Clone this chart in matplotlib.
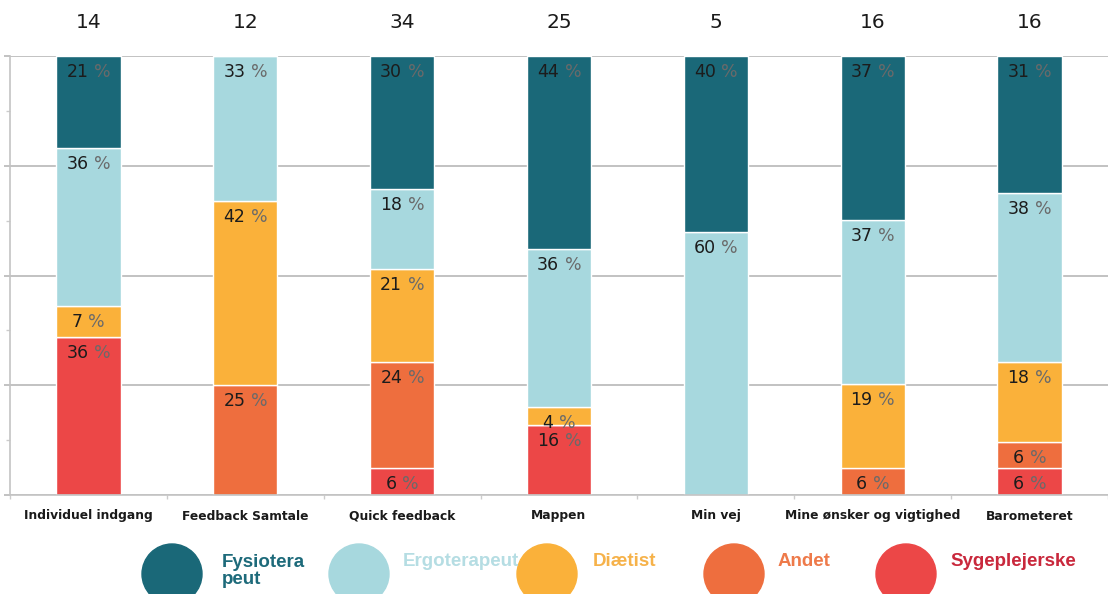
import numpy as np
import matplotlib.pyplot as plt
from matplotlib.patches import Ellipse
from matplotlib.ticker import MultipleLocator
import matplotlib.transforms as mtransforms

categories = [
    "Individuel indgang",
    "Feedback Samtale",
    "Quick feedback",
    "Mappen",
    "Min vej",
    "Mine ønsker og vigtighed",
    "Barometeret",
]
counts = [14, 12, 34, 25, 5, 16, 16]

# shares in percent, stacked bottom -> top
sygeplejerske = [36, 0, 6, 16, 0, 0, 6]
andet = [0, 25, 24, 0, 0, 6, 6]
diaetist = [7, 42, 21, 4, 0, 19, 18]
ergoterapeut = [36, 33, 18, 36, 60, 37, 38]
fysioterapeut = [21, 0, 30, 44, 40, 37, 31]

series = [
    ("Sygeplejerske", sygeplejerske, "#ec4747"),
    ("Andet", andet, "#ee6e3e"),
    ("Diætist", diaetist, "#fab13a"),
    ("Ergoterapeut", ergoterapeut, "#a7d8de"),
    ("Fysioterapeut", fysioterapeut, "#1a6878"),
]

W, H = 1108, 594
fig = plt.figure(figsize=(W / 100, H / 100), dpi=100)
ax = fig.add_axes([10 / W, 99 / H, 1098 / W, 439 / H])

# 100% stacked: scale each column to its own total (rounded shares may sum to 99)
totals = np.sum([s[1] for s in series], axis=0).astype(float)

FS = 12.5
digit_w, gap_w, pct_w = 0.636 * FS, 0.318 * FS, 0.95 * FS

x = np.arange(len(categories))
bottom = np.zeros(len(categories))
for name, vals, col in series:
    vals = np.array(vals, dtype=float)
    heights = vals / totals * 100
    ax.bar(x, heights, width=0.41, bottom=bottom, color=col, edgecolor="white",
           linewidth=1.0, zorder=2)
    for xi, v, h, b in zip(x, vals, heights, bottom):
        if v <= 0:
            continue
        num = str(int(v))
        total_w = len(num) * digit_w + gap_w + pct_w
        left = -total_w / 2
        ax.annotate(num, (xi, b + h), xytext=(left + len(num) * digit_w, -5),
                    textcoords="offset points", ha="right", va="top",
                    fontsize=FS, color="#1c1c1c", zorder=4)
        ax.annotate("%", (xi, b + h), xytext=(left + len(num) * digit_w + gap_w, -5),
                    textcoords="offset points", ha="left", va="top",
                    fontsize=FS, color="#6a6a6a", zorder=4)
    bottom += heights

ax.set_xlim(-0.5, -0.5 + 1098 / 160)
ax.set_ylim(0, 100)

ax.yaxis.set_major_locator(MultipleLocator(25))
ax.yaxis.set_minor_locator(MultipleLocator(12.5))
ax.set_yticklabels([])
ax.set_xticks(np.arange(len(categories) + 1) - 0.5)
ax.set_xticklabels([])
ax.tick_params(axis="y", which="major", length=4, color="#b8b8b8", width=1.2)
ax.tick_params(axis="y", which="minor", length=3, color="#cccccc", width=1.0)
ax.tick_params(axis="x", which="major", length=3, color="#cccccc", width=1.0)
ax.yaxis.grid(True, which="major", color="#b8b8b8", linewidth=1.2, zorder=0)
ax.set_axisbelow(True)

for s in ["top", "right"]:
    ax.spines[s].set_visible(False)
ax.spines["left"].set_color("#c4c4c4")
ax.spines["left"].set_linewidth(1.2)
ax.spines["bottom"].set_color("#c4c4c4")
ax.spines["bottom"].set_linewidth(1.2)

trans = mtransforms.blended_transform_factory(ax.transData, fig.transFigure)
for xi, cat, n in zip(x, categories, counts):
    ax.text(xi, 1 - 22 / H, str(n), transform=trans, ha="center", va="center",
            fontsize=14.5, color="#1a1a1a")
    ax.text(xi, 1 - 516 / H, cat, transform=trans, ha="center", va="center",
            fontsize=8.8, fontweight="bold", color="#1a1a1a")

# legend row with large dots
legend_items = [
    (172, "#1a6878", "Fysiotera\npeut", "#1d6a7a", 50, 571),
    (359, "#a7d8de", "Ergoterapeut", "#b5dde3", 44, 562),
    (547, "#fab13a", "Diætist", "#f6b24a", 46, 562),
    (734, "#ee6e3e", "Andet", "#ee7a4a", 44, 562),
    (906, "#ec4747", "Sygeplejerske", "#c9283c", 44, 562),
]
for cx, col, label, tcol, dx, ty in legend_items:
    fig.add_artist(Ellipse((cx / W, 1 - 574 / H), 60 / W, 60 / H,
                           transform=fig.transFigure, color=col))
    fig.text((cx + dx) / W, 1 - ty / H, label, ha="left", va="center",
             fontsize=13.5, fontweight="bold", color=tcol,
             family="Liberation Sans", linespacing=1.05)

fig.savefig("out.png", dpi=100)
